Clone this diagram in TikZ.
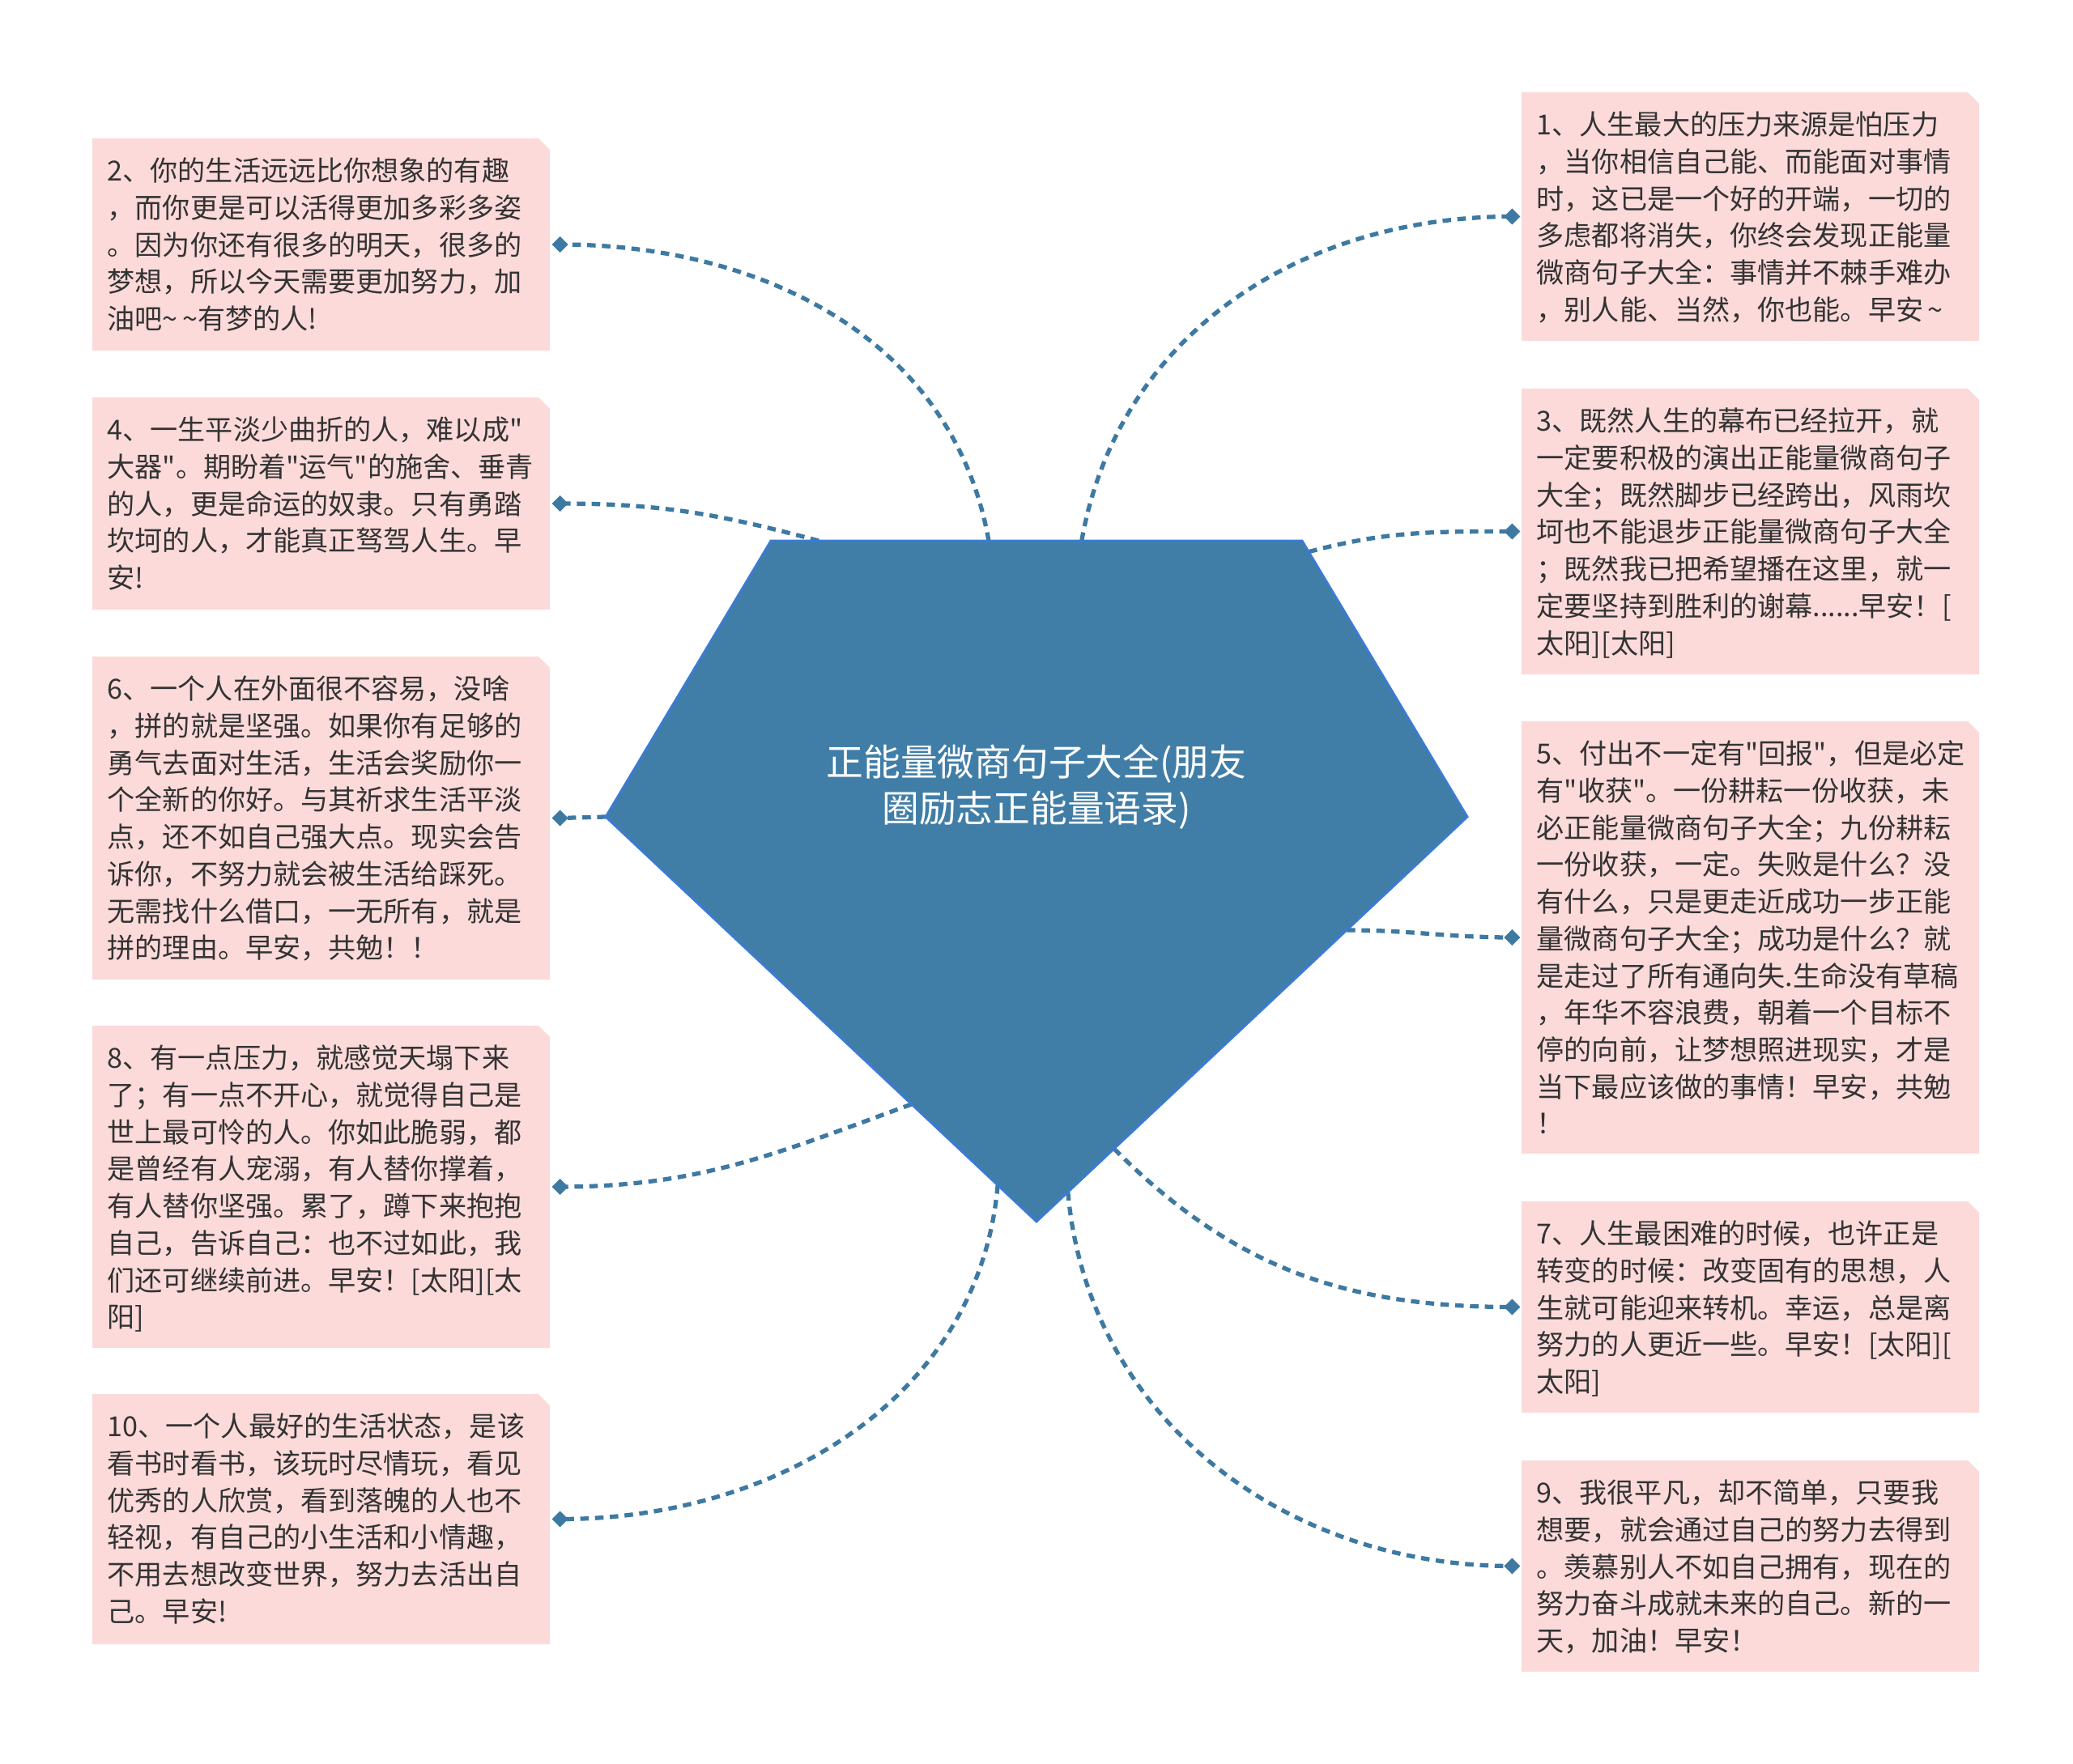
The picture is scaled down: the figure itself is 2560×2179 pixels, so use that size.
\documentclass[tikz,border=0pt]{standalone}
\usepackage{fontspec}
\newfontfamily\cjk{Noto Sans CJK SC}
\usetikzlibrary{calc,fit}
\definecolor{boxfill}{HTML}{FCDADA}
\definecolor{txtc}{HTML}{333333}
\definecolor{cfill}{HTML}{407EA7}
\definecolor{cline}{HTML}{3A7BD5}
\definecolor{connc}{HTML}{3E79A2}
\tikzset{
  boxnode/.style={inner sep=0pt, draw=none},
  txt/.style={anchor=north west, inner sep=0pt, align=left, text=txtc,
    font=\cjk\fontsize{9.7pt}{13pt}\selectfont},
  conn/.style={draw=connc, line width=1.5pt, dash pattern=on 3pt off 2.2pt},
  centertext/.style={text=white, align=center, inner sep=0pt,
    font=\cjk\fontsize{13pt}{16.2pt}\selectfont}
}
\newcommand\pinkbox[6]{%
  \fill[boxfill] (#2,#3) -- (#2,#5) -- (#4,#5) -- (#4,#3+14) -- (#4-14,#3) -- cycle;
  \node[boxnode, fit={(#2,#3) (#4,#5)}] (#1) {};
  \node[txt] (#1t) at (#2+18,#3+20) {\strut #6};
}
\newcommand\tipmark[1]{\fill[connc] (#1) +(-10,0) -- +(0,10) -- +(10,0) -- +(0,-10) -- cycle;}
\begin{document}
\begin{tikzpicture}[x=0.01cm,y=-0.01cm]
\useasboundingbox (0,0) rectangle (2560,2179);
% pentagon vertices
\coordinate (P1) at (952,668);
\coordinate (P2) at (1608,668);
\coordinate (P3) at (1812,1009);
\coordinate (P4) at (1280,1509);
\coordinate (P5) at (748,1009);
% boxes left
\pinkbox{b2}{114}{171}{679}{433}{2、你的生活远远比你想象的有趣\\，而你更是可以活得更加多彩多姿\\。因为你还有很多的明天，很多的\\梦想，所以今天需要更加努力，加\\油吧\textasciitilde\,\textasciitilde 有梦的人!}
\pinkbox{b4}{114}{491}{679}{753}{4、一生平淡少曲折的人，难以成"\\大器"。期盼着"运气"的施舍、垂青\\的人，更是命运的奴隶。只有勇踏\\坎坷的人，才能真正驽驾人生。早\\安!}
\pinkbox{b6}{114}{811}{679}{1210}{6、一个人在外面很不容易，没啥\\，拼的就是坚强。如果你有足够的\\勇气去面对生活，生活会奖励你一\\个全新的你好。与其祈求生活平淡\\点，还不如自己强大点。现实会告\\诉你，不努力就会被生活给踩死。\\无需找什么借口，一无所有，就是\\拼的理由。早安，共勉！！}
\pinkbox{b8}{114}{1267}{679}{1665}{8、有一点压力，就感觉天塌下来\\了；有一点不开心，就觉得自己是\\世上最可怜的人。你如此脆弱，都\\是曾经有人宠溺，有人替你撑着，\\有人替你坚强。累了，蹲下来抱抱\\自己，告诉自己：也不过如此，我\\们还可继续前进。早安！[太阳][太\\阳]}
\pinkbox{b10}{114}{1722}{679}{2031}{10、一个人最好的生活状态，是该\\看书时看书，该玩时尽情玩，看见\\优秀的人欣赏，看到落魄的人也不\\轻视，有自己的小生活和小情趣，\\不用去想改变世界，努力去活出自\\己。早安!}
% boxes right
\pinkbox{b1}{1879}{114}{2444}{421}{1、人生最大的压力来源是怕压力\\，当你相信自己能、而能面对事情\\时，这已是一个好的开端，一切的\\多虑都将消失，你终会发现正能量\\微商句子大全：事情并不棘手难办\\，别人能、当然，你也能。早安\,\textasciitilde}
\pinkbox{b3}{1879}{480}{2444}{833}{3、既然人生的幕布已经拉开，就\\一定要积极的演出正能量微商句子\\大全；既然脚步已经跨出，风雨坎\\坷也不能退步正能量微商句子大全\\；既然我已把希望播在这里，就一\\定要坚持到胜利的谢幕......早安！[\\太阳][太阳]}
\pinkbox{b5}{1879}{891}{2444}{1425}{5、付出不一定有"回报"，但是必定\\有"收获"。一份耕耘一份收获，未\\必正能量微商句子大全；九份耕耘\\一份收获，一定。失败是什么？没\\有什么，只是更走近成功一步正能\\量微商句子大全；成功是什么？就\\是走过了所有通向失.生命没有草稿\\，年华不容浪费，朝着一个目标不\\停的向前，让梦想照进现实，才是\\当下最应该做的事情！早安，共勉\\！}
\pinkbox{b7}{1879}{1484}{2444}{1745}{7、人生最困难的时候，也许正是\\转变的时候：改变固有的思想，人\\生就可能迎来转机。幸运，总是离\\努力的人更近一些。早安！[太阳][\\太阳]}
\pinkbox{b9}{1879}{1804}{2444}{2065}{9、我很平凡，却不简单，只要我\\想要，就会通过自己的努力去得到\\。羡慕别人不如自己拥有，现在的\\努力奋斗成就未来的自己。新的一\\天，加油！早安！}
% connector end points
\foreach \n in {2,4,6,8,10} {\coordinate (d\n) at ($(b\n.east)+(12,0)$);}
\foreach \n in {1,3,5,7,9} {\coordinate (d\n) at ($(b\n.west)+(-11,0)$);}
% connector start points
\coordinate (s2) at ($(P1)!0.41!(P2)$);
\coordinate (s4) at ($(P1)!0.09!(P2)$);
\coordinate (s1) at ($(P1)!0.585!(P2)$);
\coordinate (s6) at (P5);
\coordinate (s3) at ($(P2)!0.04!(P3)$);
\coordinate (s5) at ($(P3)!0.28!(P4)$);
\coordinate (s7) at ($(P3)!0.82!(P4)$);
\coordinate (s9) at ($(P3)!0.927!(P4)$);
\coordinate (s8) at ($(P5)!0.71!(P4)$);
\coordinate (s10) at ($(P5)!0.91!(P4)$);
% connectors
\draw[conn] (s2) to[out=100,in=0] (d2);
\draw[conn] (s4) to[out=165,in=0] (d4);
\draw[conn] (s6) -- (d6);
\draw[conn] (s8) to[out=200,in=0] (d8);
\draw[conn] (s10) to[out=265,in=0] (d10);
\draw[conn] (s1) to[out=80,in=180] (d1);
\draw[conn] (s3) to[out=15,in=180] (d3);
\draw[conn] (s5) to[out=0,in=180] (d5);
\draw[conn] (s7) to[out=-45,in=180] (d7);
\draw[conn] (s9) to[out=-85,in=180] (d9);
\foreach \n in {1,...,10} {\tipmark{d\n}}
% center shape
\filldraw[fill=cfill, draw=cline, line width=0.8pt, line join=miter] (P1) -- (P2) -- (P3) -- (P4) -- (P5) -- cycle;
\node[centertext] (c) at (1280,972) {正能量微商句子大全(朋友\\圈励志正能量语录)};
\end{tikzpicture}
\end{document}
